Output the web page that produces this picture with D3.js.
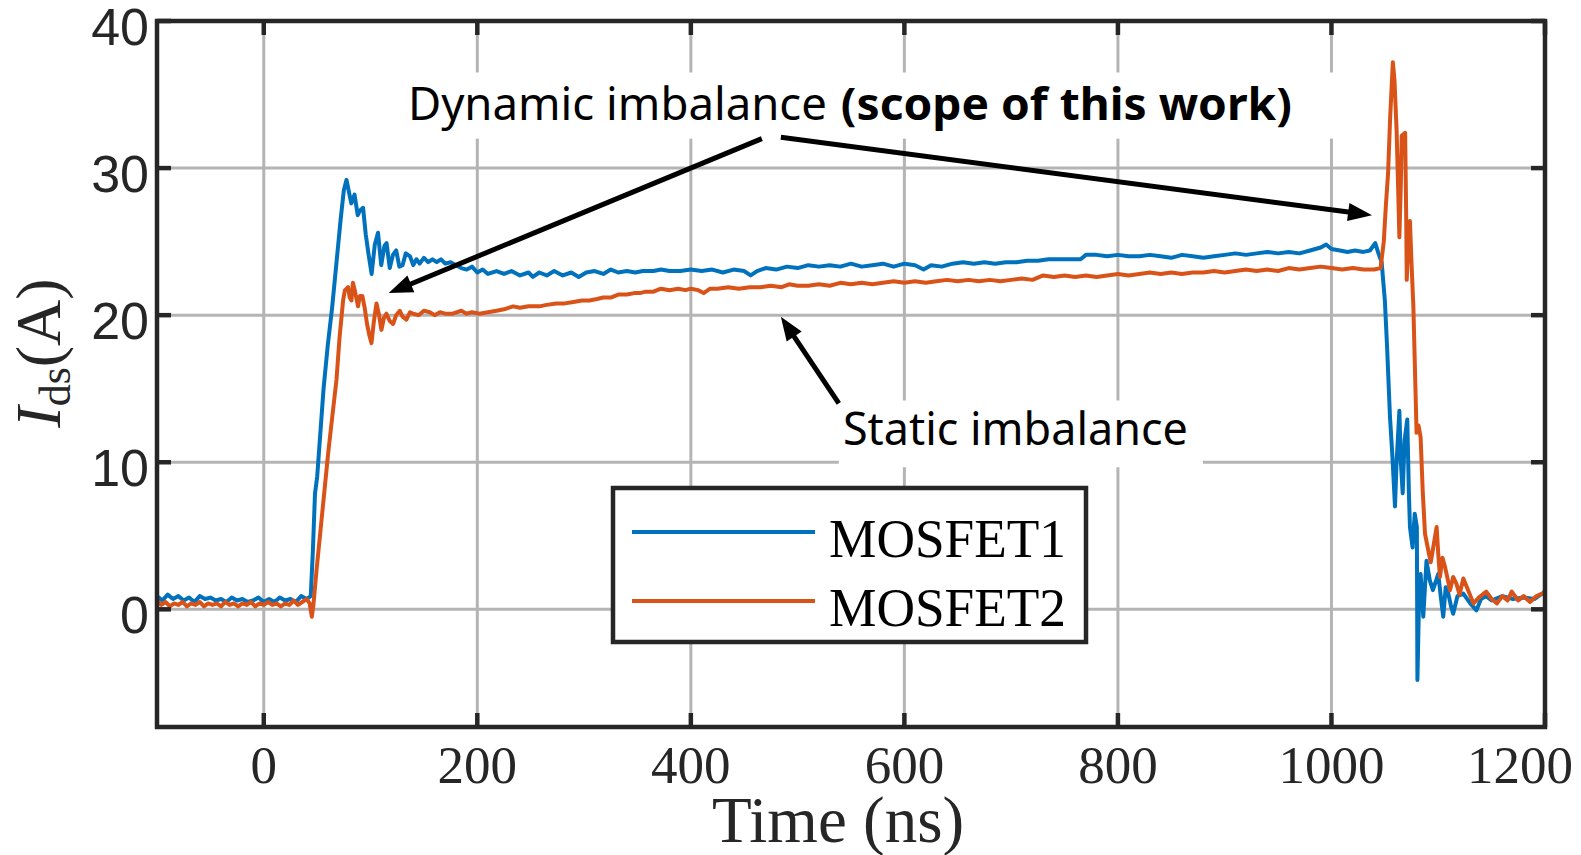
<!DOCTYPE html>
<html>
<head>
<meta charset="utf-8">
<script src="https://cdn.jsdelivr.net/npm/d3@7"></script>
<style>
  html, body { margin: 0; padding: 0; background: #fff; }
  svg { display: block; }
</style>
</head>
<body>
<div class="container"></div>
<script>
// time (ns) and current (A)
var timeMos1 = [-100,-95,-90,-85,-80,-75,-70,-65,-60,-55,-50,-45,-40,-35,-30,-25,-20,-15,-10,-5,0,5,10,15,20,25,30,35,40,44,
  46,48,50,53,56,60,64,68,72,75,77.5,
  80,82,85,88,90,93,95.5,98,101,104,107,110,113,115,118,121,124,127,130,133,137,140,143,146,150,154,158,162,166,170,175,180,185,190,195,
  200,205,210,218,225,232,240,248,252,258,265,272,280,288,295,302,310,318,325,332,340,348,355,365,372,380,390,400,410,420,430,440,450,456,462,470,480,490,
  500,510,520,530,540,550,560,570,580,590,600,610,618,625,635,645,655,665,675,685,695,705,715,725,735,745,755,765,770,780,790,
  800,810,820,830,840,850,860,870,880,890,900,910,920,930,940,950,960,970,980,990,995,1000,1008,1015,1022,1030,1036,1041,1044,1047,
  1050,1052,1054.8,1057,1059.5,1061,1063.6,1065,1066.7,1068.5,1071,1072.5,1073.5,1076,1078,1080,1080.5,1082,1083.5,1086,1089,1092,1095,
  1100,1102.5,1104.7,1107,1109.4,1112,1114,1118,1123.5,1130,1135.8,1140,1145,1150,1160,1170,1180,1190,1200];
var currentMos1 = [0.9,0.6,1.0,0.7,0.9,0.6,0.8,0.5,0.9,0.7,0.8,0.6,0.7,0.5,0.8,0.6,0.7,0.5,0.6,0.8,0.5,0.7,0.5,0.8,0.6,0.7,0.5,0.9,0.7,0.9,
  4.0,7.9,9.0,12.0,15.0,18.0,20.5,23.5,26.5,28.5,29.2,
  28.3,27.6,28.2,26.8,27.1,27.3,25.5,24.2,22.8,24.8,25.6,23.4,24.7,24.9,23.2,24.1,24.4,23.3,23.4,24.2,24.0,23.4,23.8,23.5,23.9,23.6,23.8,23.6,23.8,23.5,23.6,23.4,23.2,23.1,23.3,
  22.9,23.1,22.8,23.0,22.8,23.0,22.7,22.9,22.6,22.9,22.7,23.0,22.7,22.9,22.6,22.9,23.0,22.8,23.1,22.9,23.0,22.9,23.0,23.0,23.1,23.0,23.0,23.1,23.0,23.1,22.9,23.1,23.0,22.7,23.0,23.2,23.1,23.3,
  23.2,23.4,23.3,23.4,23.3,23.5,23.3,23.4,23.5,23.3,23.5,23.4,23.1,23.4,23.3,23.5,23.6,23.5,23.6,23.5,23.6,23.6,23.7,23.7,23.8,23.8,23.8,23.8,24.1,24.1,24.0,
  24.1,24.0,24.0,24.1,24.0,23.9,24.1,24.0,23.9,24.0,24.1,24.2,24.1,24.2,24.3,24.2,24.3,24.2,24.4,24.6,24.8,24.5,24.4,24.3,24.4,24.3,24.4,24.9,24.2,23.6,
  21.0,18.0,13.1,10.5,7.0,10.0,13.5,10.0,7.9,11.5,12.9,8.0,5.6,4.2,6.5,5.6,-4.8,0.5,2.4,-0.5,3.3,2.0,1.3,
  2.4,0.8,-0.5,1.5,1.07,0.2,-0.3,0.9,1.07,0.4,-0.07,0.7,0.9,0.6,0.9,0.7,0.8,0.7,1.2];

var timeMos2 = [-100,-96,-92,-88,-84,-80,-76,-72,-68,-64,-60,-56,-52,-48,-44,-40,-36,-32,-28,-24,-20,-16,-12,-8,-4,0,4,8,12,16,20,24,28,32,36,40,43,45,
  46.5,49.4,54,60.3,64,68.1,71,74.3,76,79,80.5,82.1,83.5,85.2,88.3,90,92.4,94.5,96.7,99,100.9,103,105.6,108,110.2,112.5,114.9,118,121.1,124,127.4,130,133.6,137,139.9,
  145,150,155.5,160,165,170,177,185,190,195,202,210,218,225,233.5,240,248,258,265,274,282,290,298,305,312,318,325,332,340,347,352,358,365,372,380,388,395,
  400,407,412,418,425,435,445,455,465,475,485,492,500,510,520,530,540,550,560,570,580,590,600,610,620,630,640,650,660,670,680,690,
  700,710,720,730,740,750,760,770,780,790,800,810,820,830,840,850,860,870,880,890,900,910,920,930,940,950,960,970,980,990,
  1000,1010,1020,1030,1040,1046,1049,1051,1053,1055,1057.5,1059,1061,1062.5,1063.6,1065,1065.8,1069,1070,1070.5,1072,1073.5,1075,1076.7,1078,1079.7,
  1081.5,1083.5,1085.5,1087.6,1090.7,1093,1096,1098.5,1100,1101.6,1104,1106.3,1109,1111,1114,1117,1120,1123.5,1128,1133,1138,1145,1150,1155,1160,1165,1168.8,1175,1180,1186,1192,1198.5,1200];
var currentMos2 = [0.6,0.3,0.5,0.2,0.4,0.3,0.5,0.2,0.4,0.3,0.5,0.2,0.4,0.3,0.4,0.2,0.5,0.3,0.4,0.2,0.4,0.3,0.5,0.2,0.4,0.3,0.5,0.3,0.4,0.2,0.4,0.3,0.6,0.3,0.5,0.7,0.4,-0.5,
  0.3,2.65,6.0,10.6,13.0,15.6,18.5,21.0,21.7,21.9,21.2,21.0,22.2,21.7,20.6,21.3,21.3,20.5,19.4,18.6,18.1,19.5,20.8,20.0,19.0,19.8,20.1,19.6,19.4,20.0,20.3,19.9,19.7,20.2,20.1,
  20.0,20.3,20.2,20.0,20.2,20.1,20.1,20.3,20.1,20.2,20.1,20.2,20.3,20.4,20.6,20.5,20.6,20.6,20.7,20.8,20.8,20.9,21.0,21.0,21.1,21.2,21.2,21.4,21.4,21.5,21.5,21.6,21.6,21.8,21.7,21.8,21.7,
  21.8,21.7,21.5,21.8,21.8,21.9,21.8,21.9,21.9,22.0,21.9,22.1,22.0,22.0,22.1,22.0,22.2,22.1,22.2,22.1,22.2,22.3,22.2,22.3,22.2,22.3,22.4,22.3,22.4,22.3,22.4,22.3,
  22.4,22.5,22.4,22.7,22.6,22.7,22.6,22.7,22.6,22.7,22.8,22.7,22.8,22.9,22.8,22.9,22.8,22.9,22.9,23.0,22.9,23.0,23.1,23.0,23.1,23.0,23.2,23.1,23.2,23.3,
  23.2,23.1,23.2,23.1,23.1,23.2,25.0,27.5,29.6,33.5,37.2,36.0,32.6,28.5,25.3,29.0,32.2,32.4,26.7,22.4,25.0,26.4,23.5,20.6,16.9,12.0,
  12.5,11.7,8.0,5.15,4.0,3.2,4.5,5.6,3.8,2.2,3.5,2.9,2.0,1.3,2.2,1.75,1.0,2.1,1.3,0.4,0.8,1.2,0.7,0.4,0.9,0.6,1.2,0.6,0.9,0.5,0.9,1.1,1.3];

var seriesNames = ['MOSFET1', 'MOSFET2'];
var seriesColors = ['#0072BD', '#D95319'];
var xTicks = [0, 200, 400, 600, 800, 1000, 1200];
var yTicks = [0, 10, 20, 30, 40];

// annotations in data units: [tailT, tailI, tipT, tipI]
var arrows = [[466.5, 32.0, 117, 21.5], [484.3, 32.1, 1038, 26.8], [538.6, 14.0, 484.3, 19.9]];

var WIDTH = 1581, HEIGHT = 855;
var LEFT = 157, RIGHT = 1545, TOP = 21, BOTTOM = 727;
var AXIS = '#262626';

var svg = d3.select('.container').append('svg')
  .attr('width', WIDTH).attr('height', HEIGHT);

var xScale = d3.scaleLinear().domain([-100, 1200]).range([LEFT, RIGHT]);
var yScale = d3.scaleLinear().domain([-8, 40]).range([BOTTOM, TOP]);

// grid
svg.append('g').selectAll('line').data(xTicks.filter(function (d) { return d < 1200; })).enter().append('line')
  .attr('x1', function (d) { return xScale(d); }).attr('x2', function (d) { return xScale(d); })
  .attr('y1', TOP).attr('y2', BOTTOM)
  .attr('stroke', '#b4b4b4').attr('stroke-width', 3);
svg.append('g').selectAll('line').data(yTicks.filter(function (d) { return d < 40; })).enter().append('line')
  .attr('y1', function (d) { return yScale(d); }).attr('y2', function (d) { return yScale(d); })
  .attr('x1', LEFT).attr('x2', RIGHT)
  .attr('stroke', '#b4b4b4').attr('stroke-width', 3);

// white label boxes (in data units)
var boxes = [[122.7, 36.5, 1017, 32.0], [538.6, 14.2, 879.6, 9.66]];
svg.append('g').selectAll('rect').data(boxes).enter().append('rect')
  .attr('x', function (d) { return xScale(d[0]); })
  .attr('y', function (d) { return yScale(d[1]); })
  .attr('width', function (d) { return xScale(d[2]) - xScale(d[0]); })
  .attr('height', function (d) { return yScale(d[3]) - yScale(d[1]); })
  .attr('fill', '#fff');

// data
svg.append('clipPath').attr('id', 'plotClip').append('rect')
  .attr('x', LEFT).attr('y', TOP).attr('width', RIGHT - LEFT).attr('height', BOTTOM - TOP);

var line = d3.line()
  .x(function (d) { return xScale(d[0]); })
  .y(function (d) { return yScale(d[1]); });

var series = [d3.zip(timeMos1, currentMos1), d3.zip(timeMos2, currentMos2)];
svg.append('g').attr('clip-path', 'url(#plotClip)').selectAll('path').data(series).enter().append('path')
  .attr('d', line)
  .attr('fill', 'none')
  .attr('stroke', function (d, i) { return seriesColors[i]; })
  .attr('stroke-width', 4)
  .attr('stroke-linejoin', 'round');

// axes box + inward ticks
var ax = svg.append('g').attr('stroke', AXIS).attr('stroke-width', 4.5);
ax.append('rect').attr('x', LEFT).attr('y', TOP).attr('width', RIGHT - LEFT).attr('height', BOTTOM - TOP).attr('fill', 'none');
xTicks.forEach(function (t) {
  ax.append('line').attr('x1', xScale(t)).attr('x2', xScale(t)).attr('y1', BOTTOM).attr('y2', BOTTOM - 14);
  ax.append('line').attr('x1', xScale(t)).attr('x2', xScale(t)).attr('y1', TOP).attr('y2', TOP + 14);
});
yTicks.forEach(function (t) {
  ax.append('line').attr('y1', yScale(t)).attr('y2', yScale(t)).attr('x1', LEFT).attr('x2', LEFT + 14);
  ax.append('line').attr('y1', yScale(t)).attr('y2', yScale(t)).attr('x1', RIGHT).attr('x2', RIGHT - 14);
});

// tick labels (the last one is pulled inside the page, as in the picture)
svg.append('g').selectAll('text').data(xTicks).enter().append('text')
  .attr('x', function (d, i) { return i === xTicks.length - 1 ? 1573 : xScale(d); }).attr('y', 783)
  .attr('text-anchor', function (d, i) { return i === xTicks.length - 1 ? 'end' : 'middle'; })
  .attr('font-family', '"Liberation Serif", "Times New Roman", serif').attr('font-size', 53)
  .attr('fill', AXIS).text(function (d) { return d; });
svg.append('g').selectAll('text').data(yTicks).enter().append('text')
  .attr('x', 149).attr('y', function (d) { return yScale(d) + 24; })
  .attr('text-anchor', 'end')
  .attr('font-family', '"Liberation Sans", Arial, sans-serif').attr('font-size', 52)
  .attr('fill', AXIS).text(function (d) { return d; });

// axis titles
svg.append('text').attr('x', 838).attr('y', 842).attr('text-anchor', 'middle')
  .attr('font-family', '"Liberation Serif", "Times New Roman", serif').attr('font-size', 65)
  .attr('fill', AXIS).text('Time (ns)');
var yt = svg.append('text').attr('transform', 'translate(60,353) rotate(-90)').attr('text-anchor', 'middle')
  .attr('font-family', '"Liberation Serif", "Times New Roman", serif').attr('font-size', 64).attr('fill', AXIS);
yt.append('tspan').attr('font-style', 'italic').text('I');
yt.append('tspan').attr('font-size', 44).attr('dy', 10).text('ds');
yt.append('tspan').attr('dy', -10).text('(A)');

// arrows
var arrowG = svg.append('g');
arrows.forEach(function (a) {
  var x1 = xScale(a[0]), y1 = yScale(a[1]), x2 = xScale(a[2]), y2 = yScale(a[3]);
  var ang = Math.atan2(y2 - y1, x2 - x1), len = 24, hw = 9;
  var bx = x2 - len * Math.cos(ang), by = y2 - len * Math.sin(ang);
  arrowG.append('line').attr('x1', x1).attr('y1', y1).attr('x2', bx + 4 * Math.cos(ang)).attr('y2', by + 4 * Math.sin(ang))
    .attr('stroke', '#000').attr('stroke-width', 5);
  arrowG.append('polygon')
    .attr('points', [[x2, y2], [bx + hw * Math.sin(ang), by - hw * Math.cos(ang)], [bx - hw * Math.sin(ang), by + hw * Math.cos(ang)]].join(' '))
    .attr('fill', '#000');
});

// annotation text
var annFont = '"Noto Sans", "Open Sans", sans-serif';
svg.append('text').attr('x', xScale(135)).attr('y', yScale(33.3))
  .attr('font-family', annFont).attr('font-size', 45).attr('fill', '#000')
  .attr('textLength', 419).attr('lengthAdjust', 'spacingAndGlyphs')
  .text('Dynamic imbalance');
svg.append('text').attr('x', xScale(540.5)).attr('y', yScale(33.3))
  .attr('font-family', annFont).attr('font-size', 45).attr('font-weight', 'bold').attr('fill', '#000')
  .attr('textLength', 451).attr('lengthAdjust', 'spacingAndGlyphs')
  .text('(scope of this work)');
svg.append('text').attr('x', xScale(542.4)).attr('y', yScale(11.2))
  .attr('font-family', annFont).attr('font-size', 45).attr('fill', '#000')
  .attr('textLength', 345).attr('lengthAdjust', 'spacingAndGlyphs')
  .text('Static imbalance');

// legend
var lg = svg.append('g');
lg.append('rect').attr('x', 613).attr('y', 488).attr('width', 473).attr('height', 154)
  .attr('fill', '#fff').attr('stroke', AXIS).attr('stroke-width', 4.5);
seriesNames.forEach(function (name, i) {
  var yy = 532 + i * 69;
  lg.append('line').attr('x1', 632).attr('x2', 815).attr('y1', yy).attr('y2', yy)
    .attr('stroke', seriesColors[i]).attr('stroke-width', 4);
  lg.append('text').attr('x', 829).attr('y', yy + 25)
    .attr('font-family', '"Liberation Serif", "Times New Roman", serif').attr('font-size', 55)
    .attr('fill', '#000').attr('textLength', 237).attr('lengthAdjust', 'spacingAndGlyphs')
    .text(name);
});
</script>
</body>
</html>
